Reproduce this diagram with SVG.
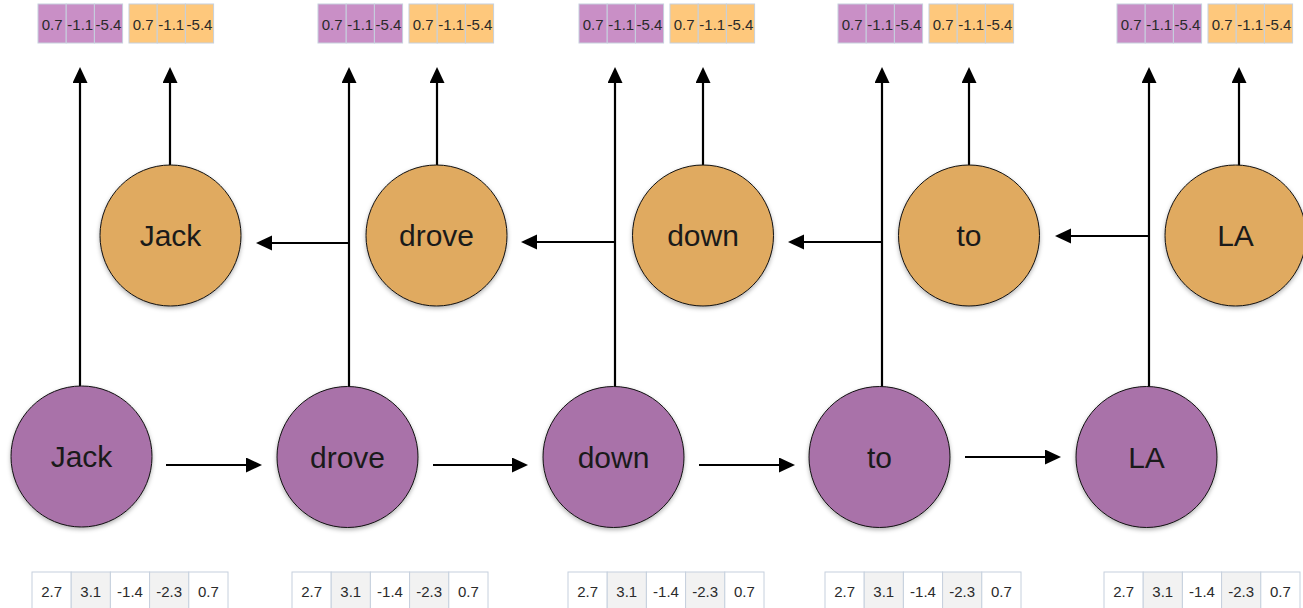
<svg xmlns="http://www.w3.org/2000/svg" width="1303" height="608" viewBox="0 0 1303 608">
  <style>
    .enc circle { fill: #a972a9; stroke: #111; stroke-width: 1; }
    .dec circle { fill: #e0aa61; stroke: #111; stroke-width: 1; }
    .node text { font-family: "Liberation Sans", Arial, sans-serif; font-size: 30px; fill: #1a1a1a; text-anchor: middle; }
    .link { stroke: #000; stroke-width: 2.2; fill: none; }
    .arrow { marker-end: url(#head); }
    .cell { stroke: #c6d0dd; stroke-width: 1; }
    .cp { fill: #c98fc6; }
    .co { fill: #fec87c; }
    .cw { fill: #ffffff; }
    .cg { fill: #f2f2f2; }
    .val { font-family: "Liberation Sans", Arial, sans-serif; font-size: 15px; fill: #2a2a2a; text-anchor: middle; }
  </style>
  <defs>
    <marker id="head" markerUnits="userSpaceOnUse" markerWidth="16" markerHeight="16" refX="1" refY="7.5" orient="auto">
      <path d="M0,0 L16,7.5 L0,15 z" fill="#000"/>
    </marker>
    <filter id="shadow" x="-20%" y="-20%" width="140%" height="150%">
      <feDropShadow dx="0" dy="2" stdDeviation="2" flood-color="#000" flood-opacity="0.3"/>
    </filter>
    <!-- output vector: 3 purple cells then 3 orange cells -->
    <g id="outvec">
      <rect class="cell cp" x="0" y="0" width="28.2" height="39"/>
      <rect class="cell cp" x="28.2" y="0" width="28.2" height="39"/>
      <rect class="cell cp" x="56.4" y="0" width="28.2" height="39"/>
      <text class="val" x="14.1" y="25.5">0.7</text>
      <text class="val" x="42.3" y="25.5">-1.1</text>
      <text class="val" x="70.5" y="25.5">-5.4</text>
      <rect class="cell co" x="91" y="0" width="28.2" height="39"/>
      <rect class="cell co" x="119.2" y="0" width="28.2" height="39"/>
      <rect class="cell co" x="147.4" y="0" width="28.2" height="39"/>
      <text class="val" x="105.1" y="25.5">0.7</text>
      <text class="val" x="133.3" y="25.5">-1.1</text>
      <text class="val" x="161.5" y="25.5">-5.4</text>
    </g>
    <!-- input embedding vector -->
    <g id="invec">
      <rect class="cell cw" x="0" y="0" width="39.2" height="50"/>
      <rect class="cell cg" x="39.2" y="0" width="39.2" height="50"/>
      <rect class="cell cw" x="78.4" y="0" width="39.2" height="50"/>
      <rect class="cell cg" x="117.6" y="0" width="39.2" height="50"/>
      <rect class="cell cw" x="156.8" y="0" width="39.2" height="50"/>
      <text class="val" x="19.6" y="25">2.7</text>
      <text class="val" x="58.8" y="25">3.1</text>
      <text class="val" x="98" y="25">-1.4</text>
      <text class="val" x="137.2" y="25">-2.3</text>
      <text class="val" x="176.4" y="25">0.7</text>
    </g>
  </defs>

  <rect width="1303" height="608" fill="#fff"/>

  <!-- connectors -->
  <g id="connectors">
    <!-- forward states up to outputs -->
    <line class="link arrow" x1="80" y1="386" x2="80" y2="82"/>
    <line class="link arrow" x1="349" y1="387" x2="349" y2="82"/>
    <line class="link arrow" x1="615" y1="387" x2="615" y2="82"/>
    <line class="link arrow" x1="882" y1="387" x2="882" y2="82"/>
    <line class="link arrow" x1="1149" y1="387" x2="1149" y2="82"/>
    <!-- backward states up to outputs -->
    <line class="link arrow" x1="170" y1="166" x2="170" y2="82"/>
    <line class="link arrow" x1="437" y1="166" x2="437" y2="82"/>
    <line class="link arrow" x1="703" y1="166" x2="703" y2="82"/>
    <line class="link arrow" x1="969" y1="166" x2="969" y2="82"/>
    <line class="link arrow" x1="1239" y1="166" x2="1239" y2="82"/>
    <!-- forward recurrence -->
    <line class="link arrow" x1="166" y1="465" x2="247" y2="465"/>
    <line class="link arrow" x1="433" y1="465" x2="513" y2="465"/>
    <line class="link arrow" x1="699" y1="465" x2="780" y2="465"/>
    <line class="link arrow" x1="965" y1="457" x2="1046" y2="457"/>
    <!-- backward recurrence -->
    <line class="link arrow" x1="350" y1="243" x2="271" y2="243"/>
    <line class="link arrow" x1="616" y1="242" x2="536" y2="242"/>
    <line class="link arrow" x1="883" y1="242" x2="803" y2="242"/>
    <line class="link arrow" x1="1150" y1="236" x2="1070" y2="236"/>
  </g>

  <!-- forward (encoder) nodes -->
  <g id="fwd-jack" class="node enc"><circle cx="81.5" cy="456.5" r="70.5" filter="url(#shadow)"/><text x="81.5" y="467">Jack</text></g>
  <g id="fwd-drove" class="node enc"><circle cx="347.5" cy="457" r="70.5" filter="url(#shadow)"/><text x="347.5" y="468">drove</text></g>
  <g id="fwd-down" class="node enc"><circle cx="613.5" cy="457" r="70.5" filter="url(#shadow)"/><text x="613.5" y="468">down</text></g>
  <g id="fwd-to" class="node enc"><circle cx="879.5" cy="457" r="70.5" filter="url(#shadow)"/><text x="879.5" y="468">to</text></g>
  <g id="fwd-la" class="node enc"><circle cx="1146.5" cy="457" r="70.5" filter="url(#shadow)"/><text x="1146.5" y="468">LA</text></g>

  <!-- backward nodes -->
  <g id="bwd-jack" class="node dec"><circle cx="170.5" cy="235.5" r="70.5" filter="url(#shadow)"/><text x="170.5" y="246">Jack</text></g>
  <g id="bwd-drove" class="node dec"><circle cx="436.5" cy="235.5" r="70.5" filter="url(#shadow)"/><text x="436.5" y="246">drove</text></g>
  <g id="bwd-down" class="node dec"><circle cx="703" cy="235.5" r="70.5" filter="url(#shadow)"/><text x="703" y="246">down</text></g>
  <g id="bwd-to" class="node dec"><circle cx="969" cy="235.5" r="70.5" filter="url(#shadow)"/><text x="969" y="246">to</text></g>
  <g id="bwd-la" class="node dec"><circle cx="1235.5" cy="235.5" r="70.5" filter="url(#shadow)"/><text x="1235.5" y="246">LA</text></g>

  <!-- output vectors -->
  <g id="out-jack"><use href="#outvec" x="38" y="4"/></g>
  <g id="out-drove"><use href="#outvec" x="318" y="4"/></g>
  <g id="out-down"><use href="#outvec" x="579" y="4"/></g>
  <g id="out-to"><use href="#outvec" x="838" y="4"/></g>
  <g id="out-la"><use href="#outvec" x="1117" y="4"/></g>

  <!-- input vectors -->
  <g id="in-jack"><use href="#invec" x="32" y="572"/></g>
  <g id="in-drove"><use href="#invec" x="292" y="572"/></g>
  <g id="in-down"><use href="#invec" x="568" y="572"/></g>
  <g id="in-to"><use href="#invec" x="825" y="572"/></g>
  <g id="in-la"><use href="#invec" x="1104" y="572"/></g>
</svg>
